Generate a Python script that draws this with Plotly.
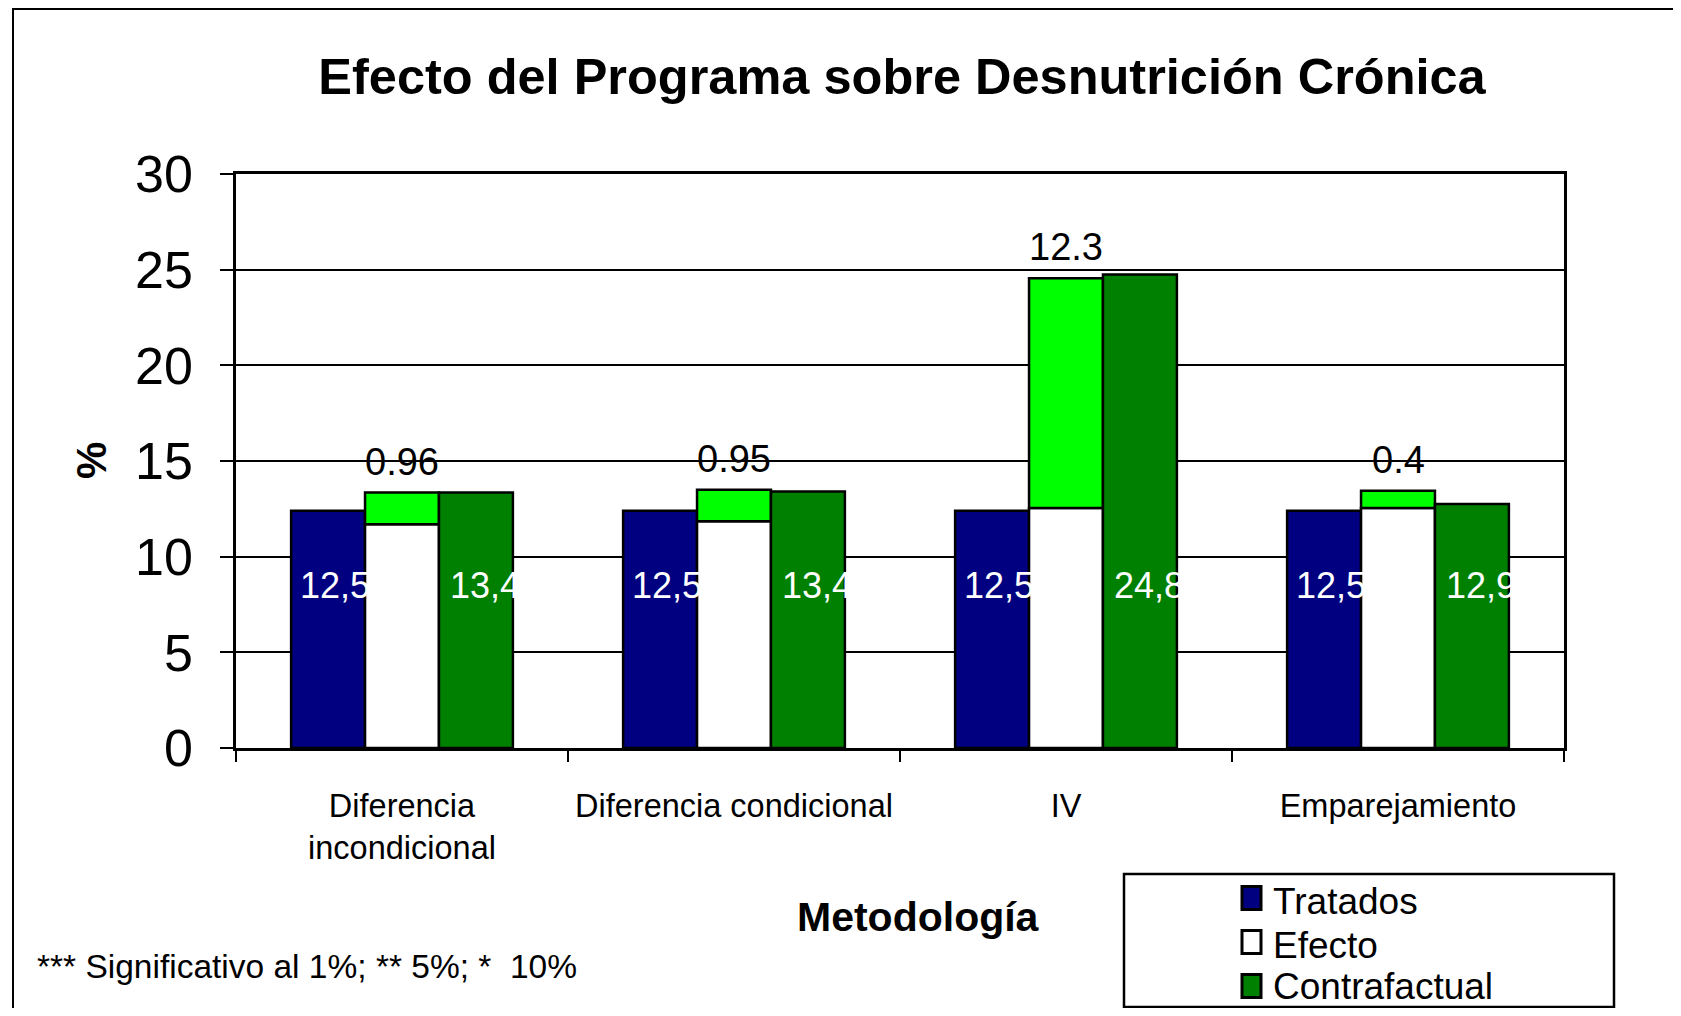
import plotly.graph_objects as go

# ---------------- data ----------------
categories = ["Diferencia<br>incondicional", "Diferencia condicional", "IV", "Emparejamiento"]
tratados = [12.4, 12.4, 12.4, 12.4]
tratados_labels = ["12,5", "12,5", "12,5", "12,5"]
efecto_base = [11.7, 11.85, 12.55, 12.55]      # white part of the Efecto bar
efecto_seg = [1.65, 1.65, 12.0, 0.9]           # bright-green part on top
efecto_labels = ["0.96", "0.95", "12.3", "0.4"]
contrafactual = [13.35, 13.4, 24.75, 12.75]
contrafactual_labels = ["13,4", "13,4", "24,8", "12,9"]
y_ticks = [0, 5, 10, 15, 20, 25, 30]
legend_names = ["Tratados", "Efecto", "Contrafactual"]
legend_colors = ["#000080", "white", "#008000"]

FONT = "Arial, Liberation Sans, sans-serif"
OFF = 8                       # page body margin
W, H = 1681 - 2 * OFF, 1016 - 2 * OFF
# plot area in window pixels
WL, WR, WT, WB = 236, 1564, 174, 748
L, R, T, B = WL - OFF, WR - OFF, WT - OFF, WB - OFF


def px(xw):
    return (xw - OFF - L) / (R - L)


def py(yw):
    return (B - (yw - OFF)) / (B - T)


line = dict(color="black", width=2.5)
fig = go.Figure()
fig.add_trace(go.Bar(x=categories, y=tratados, name="Tratados", offsetgroup="a",
                     marker=dict(color=legend_colors[0], line=line)))
fig.add_trace(go.Bar(x=categories, y=efecto_base, name="Efecto", offsetgroup="b",
                     marker=dict(color=legend_colors[1], line=line)))
fig.add_trace(go.Bar(x=categories, y=efecto_seg, base=efecto_base, name="Efecto (segmento)",
                     offsetgroup="b",
                     marker=dict(color="#00FF00", line=line)))
fig.add_trace(go.Bar(x=categories, y=contrafactual, name="Contrafactual", offsetgroup="c",
                     marker=dict(color=legend_colors[2], line=line)))

annotations = []
for i in range(len(categories)):
    annotations.append(dict(x=i - 0.312, y=8.5, xref="x", yref="y", text=tratados_labels[i],
                            showarrow=False, xanchor="left", yanchor="middle",
                            font=dict(family=FONT, size=36, color="white")))
    annotations.append(dict(x=i + 0.14, y=8.5, xref="x", yref="y", text=contrafactual_labels[i],
                            showarrow=False, xanchor="left", yanchor="middle",
                            font=dict(family=FONT, size=36, color="white")))
    top = efecto_base[i] + efecto_seg[i]
    annotations.append(dict(x=i, y=top, xref="x", yref="y", text=efecto_labels[i],
                            showarrow=False, xanchor="center", yanchor="bottom", yshift=8,
                            font=dict(family=FONT, size=38, color="black")))

annotations += [
    dict(x=px(91), y=py(461), xref="paper", yref="paper", text="<b>%</b>", textangle=-90,
         showarrow=False, xanchor="center", yanchor="middle",
         font=dict(family=FONT, size=42, color="black")),
    dict(x=px(919), y=py(917), xref="paper", yref="paper", text="<b>Metodología</b>",
         showarrow=False, xanchor="center", yanchor="middle",
         font=dict(family=FONT, size=41, color="black")),
    dict(x=px(35), y=py(966), xref="paper", yref="paper",
         text="*** Significativo al 1%; ** 5%; *  10%",
         showarrow=False, xanchor="left", yanchor="middle",
         font=dict(family=FONT, size=33.5, color="black")),
]

shapes = [
    # outer chart frame
    dict(type="rect", xref="paper", yref="paper", x0=px(13), x1=px(1800), y0=py(1100), y1=py(OFF + 1),
         line=dict(color="black", width=2), fillcolor="rgba(0,0,0,0)"),
    # legend box
    dict(type="rect", xref="paper", yref="paper", x0=px(1124), x1=px(1614), y0=py(1007), y1=py(874),
         line=dict(color="black", width=2.5), fillcolor="white", layer="below"),
]

# legend entries (swatch + text)
text_shift = [3, 3, 0]
for k, (name, col) in enumerate(zip(legend_names, legend_colors)):
    yc = 898 + 44 * k
    shapes.append(dict(type="rect", xref="paper", yref="paper",
                       x0=px(1242), x1=px(1261), y0=py(yc + 11.5), y1=py(yc - 11.5),
                       line=dict(color="black", width=3), fillcolor=col))
    annotations.append(dict(x=px(1271), y=py(yc + text_shift[k]), xref="paper", yref="paper",
                            text=name, showarrow=False, xanchor="left", yanchor="middle",
                            font=dict(family=FONT, size=37, color="black")))

fig.update_layout(
    width=W, height=H,
    margin=dict(l=L, r=W - R, t=T, b=H - B, pad=0, autoexpand=False),
    paper_bgcolor="white", plot_bgcolor="white",
    barmode="group", bargap=0.332, bargroupgap=0,
    showlegend=False,
    font=dict(family=FONT, color="black"),
    title=dict(text="<b>Efecto del Programa sobre Desnutrición Crónica</b>",
               xref="container", yref="container", x=(902 - OFF) / W, y=1 - (76 - OFF) / H,
               xanchor="center", yanchor="middle",
               font=dict(family=FONT, size=50.5, color="black")),
    xaxis=dict(type="category", tickson="boundaries", ticks="outside", ticklen=11, tickwidth=2,
               tickcolor="black", showline=True, linecolor="black", linewidth=3, mirror=True,
               showgrid=False, ticklabelstandoff=27, tickangle=0,
               tickfont=dict(family=FONT, size=32.5, color="black")),
    yaxis=dict(range=[0, 30], tickvals=y_ticks, ticks="outside", ticklen=13, tickwidth=2,
               tickcolor="black", showline=True, linecolor="black", linewidth=2.5, mirror=True,
               showgrid=True, gridcolor="black", gridwidth=2, zeroline=False,
               ticklabelstandoff=17, tickfont=dict(family=FONT, size=52, color="black")),
    annotations=annotations,
    shapes=shapes,
)

fig.write_html("out.html")
